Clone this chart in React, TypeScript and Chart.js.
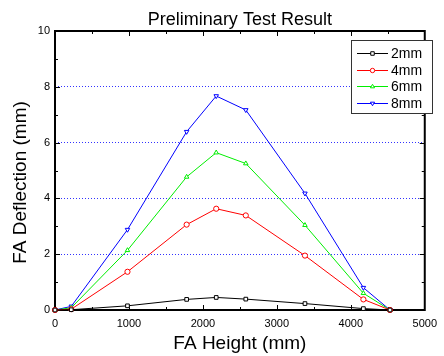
import React, { useEffect, useRef } from "react";
import { Chart, registerables } from "chart.js";

Chart.register(...registerables);

const heights = [0, 220, 980, 1780, 2180, 2580, 3380, 4170, 4530];
const d2mm = [0, 0.01, 0.15, 0.38, 0.45, 0.39, 0.23, 0.05, 0];
const d4mm = [0, 0.03, 1.37, 3.06, 3.63, 3.39, 1.95, 0.38, 0];
const d6mm = [0, 0.08, 2.14, 4.77, 5.64, 5.25, 3.04, 0.6, 0];
const d8mm = [0, 0.13, 2.88, 6.39, 7.67, 7.17, 4.18, 0.8, 0];
const seriesNames = ["2mm", "4mm", "6mm", "8mm"];
const seriesColors = ["#000000", "#ff0000", "#00ee00", "#0000ff"];
const seriesMarkers = ["rect", "circle", "triangle", "triangle"];
const seriesRotation = [0, 0, 0, 180];
const titleText = "Preliminary Test Result";
const xTitle = "FA Height (mm)";
const yTitle = "FA Deflection (mm)";

const FONT = "Arial, 'Liberation Sans', sans-serif";

function drawMarker(ctx: CanvasRenderingContext2D, kind: string, rot: number, x: number, y: number, r: number, color: string) {
  ctx.save();
  ctx.translate(x, y);
  ctx.rotate((rot * Math.PI) / 180);
  ctx.beginPath();
  if (kind === "rect") {
    ctx.rect(-r * 0.8, -r * 0.8, r * 1.6, r * 1.6);
  } else if (kind === "circle") {
    ctx.arc(0, 0, r, 0, Math.PI * 2);
  } else {
    ctx.moveTo(0, -r);
    ctx.lineTo(r * 0.95, r * 0.6);
    ctx.lineTo(-r * 0.95, r * 0.6);
    ctx.closePath();
  }
  ctx.fillStyle = "#ffffff";
  ctx.fill();
  ctx.lineWidth = 1;
  ctx.strokeStyle = color;
  ctx.stroke();
  ctx.restore();
}

const framePlugin = {
  id: "frameDecor",
  beforeDatasetsDraw(chart: any) {
    const { ctx, chartArea } = chart;
    const xs = chart.scales.x;
    const ys = chart.scales.y;
    const { left, right, top, bottom } = chartArea;
    ctx.save();
    ctx.strokeStyle = "#000";
    ctx.lineWidth = 1;
    for (let v = 500; v < 5000; v += 500) {
      const px = Math.round(xs.getPixelForValue(v)) + 0.5;
      const len = v % 1000 === 0 ? 5 : 3;
      ctx.beginPath();
      ctx.moveTo(px, bottom);
      ctx.lineTo(px, bottom - len);
      ctx.moveTo(px, top);
      ctx.lineTo(px, top + len);
      ctx.stroke();
    }
    for (let v = 1; v < 10; v += 1) {
      const py = Math.round(ys.getPixelForValue(v)) + 0.5;
      const len = v % 2 === 0 ? 5 : 3;
      ctx.beginPath();
      ctx.moveTo(left, py);
      ctx.lineTo(left + len, py);
      ctx.moveTo(right, py);
      ctx.lineTo(right - len, py);
      ctx.stroke();
    }
    ctx.lineWidth = 2;
    ctx.strokeRect(left, top, right - left, bottom - top);
    ctx.restore();
  },
  afterDraw(chart: any) {
    const { ctx, chartArea } = chart;
    const { left, right, top, bottom } = chartArea;
    ctx.save();
    ctx.fillStyle = "#000";
    ctx.textAlign = "center";
    ctx.textBaseline = "alphabetic";
    ctx.font = `18px ${FONT}`;
    ctx.fillText(titleText, (left + right) / 2, 25);
    ctx.font = `19px ${FONT}`;
    ctx.fillText(xTitle, (left + right) / 2, 349);
    ctx.save();
    ctx.translate(26, 182.5);
    ctx.rotate(-Math.PI / 2);
    ctx.fillText(yTitle, 0, 0);
    ctx.restore();

    const bx = 351, by = 40, bw = 81, bh = 73;
    ctx.fillStyle = "#fff";
    ctx.fillRect(bx, by, bw, bh);
    ctx.lineWidth = 1;
    ctx.strokeStyle = "#333";
    ctx.strokeRect(bx + 0.5, by + 0.5, bw, bh);
    ctx.font = `14px ${FONT}`;
    ctx.textAlign = "left";
    ctx.textBaseline = "middle";
    for (let i = 0; i < seriesNames.length; i++) {
      const y = Math.round(by + 13 + i * 16.7) + 0.5;
      ctx.strokeStyle = seriesColors[i];
      ctx.beginPath();
      ctx.moveTo(357, y);
      ctx.lineTo(388, y);
      ctx.stroke();
      drawMarker(ctx, seriesMarkers[i], seriesRotation[i], 372.5, y, 2.2, seriesColors[i]);
      ctx.fillStyle = "#000";
      ctx.fillText(seriesNames[i], 391, y + 1);
    }
    ctx.restore();
  },
};

export default function App() {
  const ref = useRef<HTMLCanvasElement | null>(null);
  useEffect(() => {
    if (!ref.current) return;
    const all = [d2mm, d4mm, d6mm, d8mm];
    const chart = new Chart(ref.current, {
      type: "line",
      data: {
        datasets: all.map((arr, i) => ({
          label: seriesNames[i],
          data: arr.map((v, j) => ({ x: heights[j], y: v })),
          borderColor: seriesColors[i],
          backgroundColor: "#ffffff",
          borderWidth: 1,
          pointStyle: seriesMarkers[i] as any,
          rotation: seriesRotation[i],
          pointRadius: 2.6,
          pointBorderWidth: 1,
          pointBackgroundColor: "#ffffff",
          pointBorderColor: seriesColors[i],
          tension: 0,
          clip: false as any,
        })),
      },
      options: {
        animation: false,
        responsive: false,
        layout: { padding: { top: 31, right: 10, left: 0, bottom: 0 } },
        plugins: { legend: { display: false }, title: { display: false }, tooltip: { enabled: false } },
        scales: {
          x: {
            type: "linear",
            min: 0,
            max: 5000,
            afterFit: (s: any) => { s.height = 46; },
            border: { display: false },
            grid: { display: false, drawTicks: false },
            ticks: {
              stepSize: 1000,
              color: "#000",
              font: { size: 11, family: FONT },
              padding: 7,
              maxRotation: 0,
              autoSkip: false,
              callback: (v: any) => String(v),
            },
          },
          y: {
            type: "linear",
            min: 0,
            max: 10,
            afterFit: (s: any) => { s.width = 55; },
            border: { display: false, dash: [1, 2] },
            grid: {
              drawTicks: false,
              color: (c: any) => (c.tick && c.tick.value > 0 && c.tick.value < 10 ? "#3333ff" : "rgba(0,0,0,0)"),
              lineWidth: 1,
            },
            ticks: { stepSize: 2, color: "#000", font: { size: 11, family: FONT }, padding: 5, callback: (v: any) => String(v) },
          },
        },
      },
      plugins: [framePlugin],
    } as any);
    return () => chart.destroy();
  }, []);
  return (
    <div style={{ position: "absolute", left: 0, top: 0, width: 444, height: 356 }}>
      <canvas ref={ref} width={444} height={356} style={{ display: "block" }} />
    </div>
  );
}
